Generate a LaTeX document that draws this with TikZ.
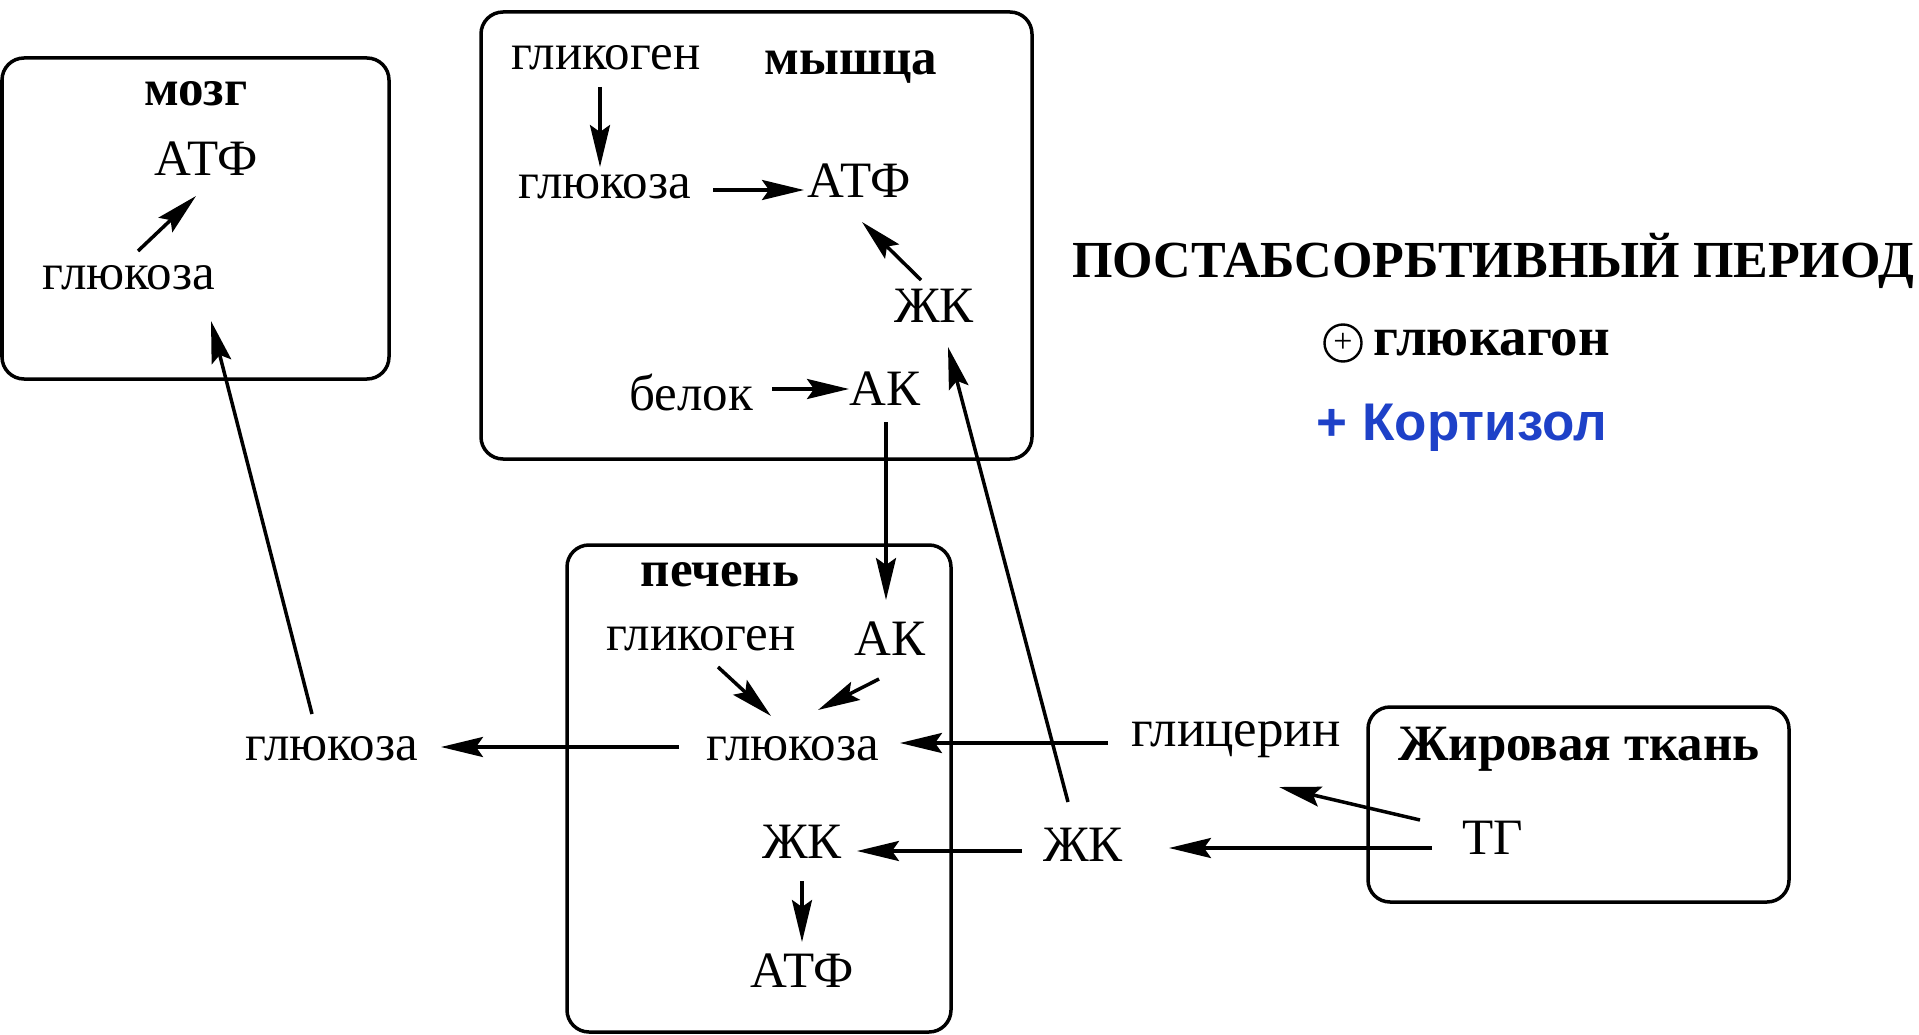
\documentclass[tikz,border=0pt]{standalone}
\usepackage{fontspec}
\setmainfont{Liberation Serif}
\newfontfamily\sansfnt{Liberation Sans}
\usetikzlibrary{arrows.meta,calc}
\definecolor{kblue}{RGB}{30,65,200}
\begin{document}
\begin{tikzpicture}[x=1pt,y=-1pt,
  txt/.style={font=\fontsize{51}{60}\selectfont, inner sep=0pt},
  lbl/.style={font=\fontsize{51}{60}\selectfont\bfseries, inner sep=0pt},
  organ/.style={draw, line width=3.5pt, rounded corners=22pt, inner sep=0pt},
  arr/.style={line width=3.5pt, -{Stealth[length=42pt,width=20pt,inset=7pt]}},
]
\useasboundingbox[fill=white] (0,0) rectangle (1919,1035);

% organ boxes
\node[organ, minimum width=387pt, minimum height=321pt] (brainBox) at (195.5,218.5) {};
\node[organ, minimum width=551pt, minimum height=447pt] (muscleBox) at (756.5,235.5) {};
\node[organ, minimum width=384pt, minimum height=487pt] (liverBox) at (759,788.5) {};
\node[organ, minimum width=421pt, minimum height=195pt] (fatBox) at (1578.5,804.5) {};

% brain
\node[lbl] (tBrain) at (196,94) {мозг};
\node[txt] (atfB) at (206,159) {АТФ};
\node[txt] (glcB) at (129,278) {глюкоза};

% muscle
\node[lbl] (tMus) at (851,67) {мышца};
\node[txt] (glyM) at (606,58) {гликоген};
\node[txt] (glcM) at (605,187) {глюкоза};
\node[txt] (atfM) at (859,181) {АТФ};
\node[txt] (faM) at (934,306) {ЖК};
\node[txt] (protM) at (691,392) {белок};
\node[txt] (aaM) at (885,389) {АК};

% liver
\node[lbl] (tLiv) at (720,575) {печень};
\node[txt] (glyL) at (701,639) {гликоген};
\node[txt] (aaL) at (890,639) {АК};
\node[txt] (glcL) at (793,749) {глюкоза};
\node[txt] (faL) at (802,842) {ЖК};
\node[txt] (atfL) at (802,971) {АТФ};

% outside
\node[txt] (glcO) at (332,749) {глюкоза};
\node[txt, font=\fontsize{53}{60}\selectfont] (glyc) at (1236,740) {глицерин};
\node[txt] (faO) at (1083,845) {ЖК};

% fat tissue
\node[lbl] (tFat) at (1579,749) {Жировая ткань};
\node[txt] (tg) at (1493,838) {ТГ};

% title and hormones
\node[font=\fontsize{52}{60}\selectfont\bfseries, inner sep=0pt] (title) at (1493,261) {ПОСТАБСОРБТИВНЫЙ ПЕРИОД};
\node[draw, circle, line width=2.4pt, minimum size=37pt, inner sep=0pt,
      font=\fontsize{34}{34}\selectfont] (plus) at (1343,343) {+};
\node[font=\fontsize{55}{60}\selectfont\bfseries, inner sep=0pt] (glucagon) at (1492,343) {глюкагон};
\node[font=\fontsize{53}{60}\sansfnt\bfseries, text=kblue, inner sep=0pt] (cort) at (1462,428) {+ Кортизол};

% arrows
\draw[arr] ($(glcB)+(9,-27)$) -- ($(atfB)+(-10,37)$);
\draw[arr] ($(glyM)+(-6,29)$) -- ($(glcM)+(-5,-20)$);
\draw[arr] ($(glcM)+(108,3)$) -- ($(atfM)+(-55,9)$);
\draw[arr] ($(faM)+(-13,-26)$) -- ($(atfM)+(3,41)$);
\draw[arr] ($(protM)+(81,-3)$) -- ($(aaM)+(-36,0)$);
\draw[arr] ($(aaM)+(1,33)$) -- ($(aaL)+(-4,-39)$);
\draw[arr] ($(glyL)+(17,28)$) -- ($(glcL)+(-22,-33)$);
\draw[arr] ($(aaL)+(-11,40)$) -- ($(glcL)+(25,-39)$);
\draw[arr] ($(glcL)+(-114,-2)$) -- ($(glcO)+(109,-2)$);
\draw[arr] ($(glcO)+(-20,-35)$) -- ($(glcB)+(82,43)$);
\draw[arr] ($(glyc)+(-128,3)$) -- ($(glcL)+(107,-6)$);
\draw[arr] ($(faO)+(-61,6)$) -- ($(faL)+(55,9)$);
\draw[arr] ($(faO)+(-15,-43)$) -- ($(faM)+(14,41)$);
\draw[arr] ($(tg)+(-73,-18)$) -- ($(glyc)+(43,47)$);
\draw[arr] ($(tg)+(-61,10)$) -- ($(faO)+(86,3)$);
\draw[arr] ($(faL)+(0,39)$) -- ($(atfL)+(0,-29)$);
\end{tikzpicture}
\end{document}
